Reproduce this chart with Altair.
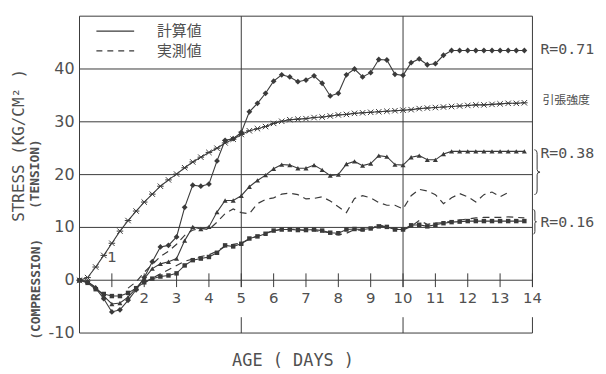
import altair as alt
import pandas as pd

# ---------------- data ----------------
DAYS = [0, 0.25, 0.5, 0.75, 1, 1.25, 1.5, 1.75, 2, 2.25, 2.5, 2.75, 3, 3.25, 3.5, 3.75,
        4, 4.25, 4.5, 4.75, 5, 5.25, 5.5, 5.75, 6, 6.25, 6.5, 6.75, 7, 7.25, 7.5, 7.75,
        8, 8.25, 8.5, 8.75, 9, 9.25, 9.5, 9.75, 10, 10.25, 10.5, 10.75, 11, 11.25, 11.5, 11.75,
        12, 12.25, 12.5, 12.75, 13, 13.25, 13.5, 13.75]

# 計算値 R=0.71 (diamonds)
CALC_071 = [0, -0.3, -1.5, -3.5, -6.0, -5.6, -3.8, -1.8, 0.5, 3.5, 6.3, 6.6, 8.2, 13.8, 18.0, 17.8,
            18.2, 22.6, 26.5, 26.8, 28.0, 31.9, 33.5, 35.4, 37.7, 38.9, 38.5, 37.6, 37.9, 38.7, 37.3, 34.9,
            35.4, 38.9, 40.0, 38.5, 39.3, 41.8, 41.7, 39.0, 38.8, 41.2, 41.9, 40.8, 41.0, 42.6, 43.5, 43.5,
            43.5, 43.5, 43.5, 43.5, 43.5, 43.5, 43.5, 43.5]

# 計算値 R=0.38 (triangles)
CALC_038 = [0, -0.3, -1.3, -3.0, -4.5, -4.3, -3.2, -1.5, 0.3, 2.2, 3.1, 3.5, 4.1, 7.5, 10.1, 9.7,
            10.1, 12.9, 15.1, 15.1, 16.0, 17.7, 18.9, 19.9, 21.1, 21.9, 21.8, 21.2, 21.2, 21.8, 20.9, 19.8,
            20.0, 22.0, 22.5, 21.7, 22.1, 23.6, 23.4, 21.9, 21.8, 23.3, 23.6, 22.8, 22.8, 23.9, 24.4, 24.4,
            24.4, 24.4, 24.4, 24.4, 24.4, 24.4, 24.4, 24.4]

# 計算値 R=0.16 (squares)
CALC_016 = [0, -0.5, -1.7, -2.6, -3.0, -3.0, -2.4, -1.5, -0.4, 0.3, 0.7, 0.9, 1.3, 2.8, 3.8, 4.1,
            4.4, 5.2, 6.6, 6.4, 6.9, 7.9, 8.3, 8.8, 9.4, 9.6, 9.6, 9.5, 9.5, 9.6, 9.4, 9.0,
            8.9, 9.6, 9.7, 9.6, 9.8, 10.2, 10.1, 9.6, 9.6, 10.4, 10.5, 10.2, 10.5, 10.8, 11.0, 11.1,
            11.2, 11.2, 11.2, 11.2, 11.2, 11.2, 11.2, 11.2]

# 引張強度 (x markers)
TENSILE = [0, 0.5, 2.5, 4.7, 7.0, 9.3, 11.3, 13.1, 14.8, 16.3, 17.8, 19.0, 20.1, 21.3, 22.4, 23.3,
           24.2, 25.0, 26.0, 26.7, 27.6, 28.3, 28.7, 29.1, 29.7, 30.1, 30.4, 30.5, 30.6, 30.8, 30.9, 31.1,
           31.3, 31.4, 31.6, 31.7, 31.8, 31.9, 32.0, 32.1, 32.2, 32.3, 32.5, 32.6, 32.7, 32.8, 32.9, 33.0,
           33.1, 33.2, 33.2, 33.3, 33.4, 33.5, 33.5, 33.6]

# 実測値 R=0.38 (dashed)
MEAS_038_DAYS = [1.5, 1.75, 2, 2.25, 2.5, 2.75, 3, 3.25, 3.5, 3.75, 4, 4.25, 4.5, 4.75, 5, 5.25,
                 5.5, 5.75, 6, 6.25, 6.5, 6.75, 7, 7.25, 7.5, 7.75, 8, 8.25, 8.5, 8.75, 9, 9.25,
                 9.5, 9.75, 10, 10.25, 10.5, 10.75, 11, 11.25, 11.5, 11.75, 12, 12.25, 12.5, 12.75, 13, 13.25]
MEAS_038 = [-1.5, -0.3, 1.5, 3.0, 4.5, 5.5, 6.8, 8.5, 9.5, 9.8, 9.6, 11.0, 12.6, 13.5, 12.8, 12.6,
            14.5, 15.3, 15.6, 16.3, 16.5, 16.2, 15.4, 15.5, 15.8, 15.0, 13.9, 12.8, 15.5, 16.0, 15.6, 14.7,
            14.2, 14.2, 13.5, 16.0, 17.2, 16.9, 16.2, 14.5, 15.6, 16.4, 15.8, 14.8, 16.2, 16.7, 15.8, 16.6]

# 実測値 R=0.16 (dashed)
MEAS_016_DAYS = [2, 2.25, 2.5, 2.75, 3, 3.25, 3.5, 3.75, 4, 4.25, 4.5, 4.75, 5, 5.25, 5.5, 5.75,
                 6, 6.25, 6.5, 6.75, 7, 7.25, 7.5, 7.75, 8, 8.25, 8.5, 8.75, 9, 9.25, 9.5, 9.75,
                 10, 10.25, 10.5, 10.75, 11, 11.25, 11.5, 11.75, 12, 12.25, 12.5, 12.75, 13, 13.25, 13.5, 13.75]
MEAS_016 = [-0.5, 0.4, 1.2, 2.0, 2.8, 3.6, 4.0, 4.5, 4.8, 5.5, 6.4, 6.8, 7.0, 7.8, 8.4, 9.0,
            9.3, 9.7, 9.7, 9.6, 9.4, 9.4, 9.2, 9.0, 8.6, 8.9, 9.6, 9.4, 9.6, 10.6, 10.0, 9.8,
            9.5, 10.2, 11.3, 10.6, 10.8, 10.9, 11.2, 11.4, 11.6, 11.8, 11.9, 11.9, 11.9, 12.0, 11.9, 11.8]

X_TICKS = [1, 2, 3, 4, 5, 6, 7, 8, 9, 10, 11, 12, 13, 14]
Y_TICKS = [-10, 0, 10, 20, 30, 40]
H_LINES = [-10, 0, 10, 20, 30, 40, 50]
V_SPLIT = [5, 10, 14]

LEGEND = ["計算値", "実測値"]
R_LABELS = ["R=0.71", "R=0.38", "R=0.16"]

# ---------------- styling ----------------
W, H = 456, 319
INK = "#3a3a3a"
TXT = "#505050"
FONT = "DejaVu Sans"
MONO = "DejaVu Sans Mono"
JP = "Noto Sans CJK JP"

xs = alt.Scale(domain=[0, 14], nice=False, zero=False)
ys = alt.Scale(domain=[-10, 50], nice=False, zero=False)

def X(f="x"):
    return alt.X(f"{f}:Q", scale=xs, axis=None)

def Y(f="y"):
    return alt.Y(f"{f}:Q", scale=ys, axis=None)

# frame / grid
hl = pd.DataFrame({"y": H_LINES, "x": [0] * len(H_LINES), "x2": [14] * len(H_LINES)})
hrules = alt.Chart(hl).mark_rule(color=INK, strokeWidth=1).encode(x=X(), x2="x2:Q", y=Y())

left = pd.DataFrame({"x": [0], "y": [-10], "y2": [50]})
lrule = alt.Chart(left).mark_rule(color=INK, strokeWidth=1).encode(x=X(), y=Y(), y2="y2:Q")

vs = pd.DataFrame({
    "x": V_SPLIT + V_SPLIT,
    "y": [50] * len(V_SPLIT) + [-7] * len(V_SPLIT),
    "y2": [-1.3] * len(V_SPLIT) + [-10] * len(V_SPLIT),
})
vrules = alt.Chart(vs).mark_rule(color=INK, strokeWidth=1).encode(x=X(), y=Y(), y2="y2:Q")

tk = pd.DataFrame({"x": X_TICKS, "y": [-1.3] * len(X_TICKS), "y2": [1.3] * len(X_TICKS)})
ticks = alt.Chart(tk).mark_rule(color=INK, strokeWidth=1).encode(x=X(), y=Y(), y2="y2:Q")

xl = pd.DataFrame({"x": X_TICKS, "t": [str(v) for v in X_TICKS],
                   "y": [4.3] + [-3.3] * (len(X_TICKS) - 1)})
xlabels = alt.Chart(xl).mark_text(font=FONT, fontSize=15, color=TXT, baseline="middle",
                                  align="center").encode(x=X(), y=Y(), text="t:N")

yl = pd.DataFrame({"y": Y_TICKS, "t": [str(v) for v in Y_TICKS]})
ylabels = alt.Chart(yl).mark_text(font=FONT, fontSize=16, color=TXT, baseline="middle",
                                  align="right", dx=-5).encode(x=alt.value(0), y=Y(), text="t:N")

# series
def series_df(days, vals):
    return pd.DataFrame({"x": days, "y": vals})

XPATH = "M-1,-1L1,1M-1,1L1,-1M-1.2,0L1.2,0"

def calc_layer(vals, shape, size, filled=True):
    d = series_df(DAYS, vals)
    line = alt.Chart(d).mark_line(color=INK, strokeWidth=1.1).encode(x=X(), y=Y())
    if filled:
        pts = alt.Chart(d).mark_point(shape=shape, size=size, filled=True, color=INK,
                                      opacity=1).encode(x=X(), y=Y())
    else:
        pts = alt.Chart(d).mark_point(shape=shape, size=size, filled=False, color=INK,
                                      strokeWidth=1, opacity=1).encode(x=X(), y=Y())
    return line + pts

l071 = calc_layer(CALC_071, "diamond", 34)
l038 = calc_layer(CALC_038, "triangle-up", 26)
l016 = calc_layer(CALC_016, "square", 20)
lten = calc_layer(TENSILE, XPATH, 30, filled=False)

m038 = alt.Chart(series_df(MEAS_038_DAYS, MEAS_038)).mark_line(
    color=INK, strokeWidth=1.2, strokeDash=[7, 5]).encode(x=X(), y=Y())
m016 = alt.Chart(series_df(MEAS_016_DAYS, MEAS_016)).mark_line(
    color=INK, strokeWidth=1.2, strokeDash=[7, 5]).encode(x=X(), y=Y())

# legend
leg_solid = alt.Chart(pd.DataFrame({"a": [0]})).mark_rule(color=INK, strokeWidth=1.1).encode(
    x=alt.value(17), x2=alt.value(55), y=alt.value(15))
leg_dash = alt.Chart(pd.DataFrame({"a": [0]})).mark_rule(color=INK, strokeWidth=1.2,
                                                        strokeDash=[6, 5]).encode(
    x=alt.value(17), x2=alt.value(55), y=alt.value(35))
leg_txt = alt.Chart(pd.DataFrame({"t": LEGEND, "py": [15, 35]})).mark_text(
    font=JP, fontSize=15, color=TXT, align="left", baseline="middle").encode(
    x=alt.value(78), y=alt.Y("py:Q", scale=None, axis=None), text="t:N")

# right annotations
ann = pd.DataFrame({"t": R_LABELS, "py": [33, 138, 207]})
ann_txt = alt.Chart(ann).mark_text(font=MONO, fontSize=15, color=TXT, align="left",
                                   baseline="middle").encode(
    x=alt.value(464), y=alt.Y("py:Q", scale=None, axis=None), text="t:N")
ten_txt = alt.Chart(pd.DataFrame({"t": ["引張強度"]})).mark_text(
    font=JP, fontSize=12, color=TXT, align="left", baseline="middle").encode(
    x=alt.value(466), y=alt.value(84), text="t:N")

BRACE = "M0,-1 Q0.12,-1 0.12,-0.8 L0.12,-0.12 Q0.12,0 0.25,0 Q0.12,0 0.12,0.12 L0.12,0.8 Q0.12,1 0,1"
br = pd.DataFrame({"px": [458, 457], "py": [157, 207], "s": [2025, 600]})
braces = alt.Chart(br).mark_point(shape=BRACE, filled=False, color=INK, strokeWidth=1,
                                  opacity=1).encode(
    x=alt.X("px:Q", scale=None, axis=None), y=alt.Y("py:Q", scale=None, axis=None),
    size=alt.Size("s:Q", scale=None, legend=None))

# axis titles
t_stress = alt.Chart(pd.DataFrame({"t": ["STRESS  (KG/CM² )"]})).mark_text(
    font=MONO, fontSize=16, color=TXT, angle=270, align="center", baseline="middle").encode(
    x=alt.value(-61), y=alt.value(130), text="t:N")
t_ten = alt.Chart(pd.DataFrame({"t": ["(TENSION)"]})).mark_text(
    font=MONO, fontSize=13, fontWeight="bold", color=TXT, angle=270,
    align="center", baseline="middle").encode(x=alt.value(-45), y=alt.value(159), text="t:N")
t_comp = alt.Chart(pd.DataFrame({"t": ["(COMPRESSION)"]})).mark_text(
    font=MONO, fontSize=13, fontWeight="bold", color=TXT, angle=270,
    align="center", baseline="middle").encode(x=alt.value(-44), y=alt.value(275), text="t:N")
t_age = alt.Chart(pd.DataFrame({"t": ["AGE ( DAYS )"]})).mark_text(
    font=MONO, fontSize=17, color=TXT, align="center", baseline="middle").encode(
    x=alt.value(215), y=alt.value(347), text="t:N")

chart = alt.layer(
    hrules, lrule, vrules, ticks, xlabels, ylabels,
    m038, m016, l016, l038, l071, lten,
    leg_solid, leg_dash, leg_txt, ann_txt, ten_txt, braces,
    t_stress, t_ten, t_comp, t_age,
).properties(
    width=W, height=H,
    padding={"left": 72, "top": 7, "right": 66, "bottom": 40},
    autosize=alt.AutoSizeParams(type="none"),
    background="white",
).configure_view(stroke=None)

chart.save("out.html", embed_options={"renderer": "svg", "actions": False})
